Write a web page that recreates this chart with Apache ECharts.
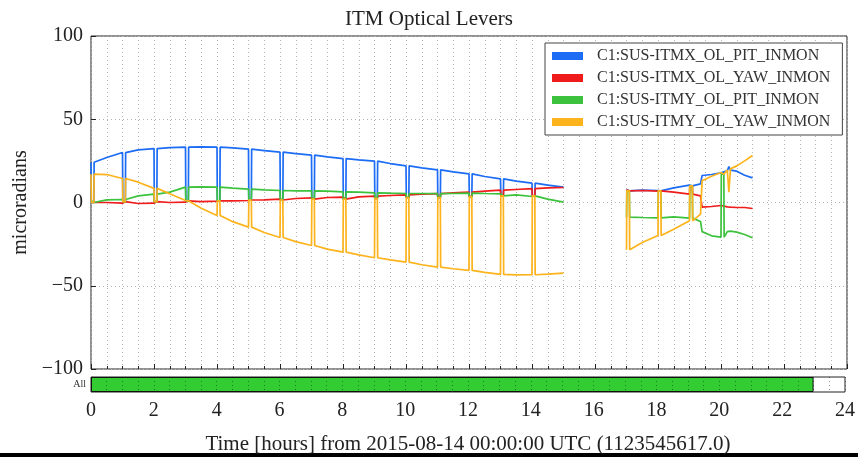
<!DOCTYPE html>
<html>
<head>
<meta charset="utf-8">
<script src="https://cdn.jsdelivr.net/npm/echarts@6/dist/echarts.min.js"></script>
<style>
html,body{margin:0;padding:0;background:#fff;}
#c{width:858px;height:457px;}
</style>
</head>
<body>
<div id="c"></div>
<script>
// ---- Data ----
const seriesNames = ['C1:SUS-ITMX_OL_PIT_INMON','C1:SUS-ITMX_OL_YAW_INMON','C1:SUS-ITMY_OL_PIT_INMON','C1:SUS-ITMY_OL_YAW_INMON'];
const xTicks = [0,2,4,6,8,10,12,14,16,18,20,22,24];
const yTicks = [-100,-50,0,50,100];

// Segment 1 (0 - 15 h), samples every half hour
const times1 = [0,0.5,1,1.5,2,2.5,3,3.5,4,4.5,5,5.5,6,6.5,7,7.5,8,8.5,9,9.5,10,10.5,11,11.5,12,12.5,13,13.5,14,14.5,15];
const blue1 = [24.2,27.0,30.0,31.6,32.4,33.0,33.3,33.4,33.2,32.8,32.0,31.2,30.2,29.4,28.4,27.4,26.4,25.6,24.8,23.4,22.0,20.8,19.6,18.4,17.2,15.6,14.2,12.8,11.6,10.4,9.2];
const red1 = [0.2,0.0,-0.4,-0.6,-0.4,0.0,0.2,0.5,0.8,1.0,1.2,1.6,2.0,2.4,2.8,3.0,3.2,3.4,3.8,4.2,4.6,5.0,5.3,5.8,6.2,6.8,7.4,7.8,8.3,8.8,9.0];
const green1 = [1.0,1.6,1.8,4.0,5.0,6.2,9.2,9.4,9.2,8.6,8.0,7.6,7.2,7.0,7.0,6.8,6.4,6.2,5.8,5.6,5.4,5.4,5.3,5.4,5.6,5.4,5.2,4.6,3.6,2.0,0.2];
const orange1 = [17.0,16.8,14.4,12.2,8.5,5.2,1.2,-3.5,-7.8,-11.5,-14.8,-18.0,-21.0,-23.5,-25.8,-28.0,-29.8,-31.5,-33.2,-34.5,-35.8,-37.4,-38.8,-39.8,-40.8,-42.0,-43.2,-43.5,-43.4,-43.0,-42.4];
// hourly re-zeroing glitches in segment 1 (common level)
const spikeTimes1 = [0,1,2,3,4,5,6,7,8,9,10,11,12,13,14];
const spikeLevel1 = [0,0.5,0.5,1,1,1.5,1.5,2,2,2.5,3,3,3.5,4,4];

// Segment 2 (17 - 21 h)
const times2 = [17,17.5,18,18.5,19,19.35,19.4,19.7,20,20.2,20.25,20.3,20.5,20.75,21];
const blue2 = [7.6,7.4,7.2,8.8,10.4,11.2,16.2,16.8,17.8,19.0,21.6,19.4,18.8,16.4,14.8];
const red2 = [7.6,7.2,6.8,6.2,5.0,4.0,-2.8,-2.4,-1.8,-2.6,-2.8,-2.8,-3.0,-3.0,-3.6];
const green2 = [-8.8,-9.0,-9.2,-8.6,-9.4,-11.4,-17.5,-20.0,-20.8,-17.5,-17.0,-17.2,-17.8,-19.2,-21.2];
const orange2 = [-28.4,-24.0,-19.8,-16.0,-11.0,-7.0,13.0,15.8,18.0,19.5,6.2,20.2,22.0,25.0,28.2];
const spikeTimes2 = [17,18,19,20];
const blueSpike2 = [7,7,10,null];
const redSpike2 = [7,7,10,null];
const greenSpike2 = [7,7,10,17];
const orangeSpike2 = [7,7,10,17];

// Data-quality state bar
const stateName = ['All'];
const stateEnd = [23];

// ---- build ----
function build(times, values, spikeTimes, spikeLevels) {
  const pts = [];
  times.forEach((t, i) => {
    const v = values[i];
    const k = spikeTimes.indexOf(t);
    if (k >= 0 && spikeLevels[k] != null) {
      pts.push([t, v], [t + 0.01, spikeLevels[k]], [t + 0.09, spikeLevels[k]], [t + 0.1, v]);
    } else {
      pts.push([t, v]);
    }
  });
  return pts;
}
function join(a, b) { return a.concat([[16, '-']], b); }

const seriesData = [
  join(build(times1, blue1, spikeTimes1, spikeLevel1), build(times2, blue2, spikeTimes2, blueSpike2)),
  join(build(times1, red1, spikeTimes1, spikeLevel1), build(times2, red2, spikeTimes2, redSpike2)),
  join(build(times1, green1, spikeTimes1, spikeLevel1), build(times2, green2, spikeTimes2, greenSpike2)),
  join(build(times1, orange1, spikeTimes1, spikeLevel1), build(times2, orange2, spikeTimes2, orangeSpike2))
];
const colors = ['#1c6cf5','#f01c1c','#3cc23c','#fdb31c'];

const FONT = 'Liberation Serif';
const minus = v => (v < 0 ? '\u2212' + Math.abs(v) : String(v));
const dotted = { color: '#b5b5b5', width: 1, type: [1, 3] };
const darkDotted = { color: 'rgba(0,0,0,0.4)', width: 1, type: [1, 3] };

const chart = echarts.init(document.getElementById('c'), null, { renderer: 'canvas' });
chart.setOption({
  animation: false,
  backgroundColor: '#fff',
  color: colors,
  title: {
    text: 'ITM Optical Levers', left: 'center', top: 4,
    textStyle: { fontFamily: FONT, fontSize: 21, fontWeight: 'normal', color: '#222' }
  },
  legend: {
    data: seriesNames, orient: 'vertical', left: 545, top: 43,
    padding: [5, 12, 5, 7], itemGap: 6, itemWidth: 31, itemHeight: 8,
    icon: 'rect', backgroundColor: '#fff', borderColor: '#444', borderWidth: 1,
    textStyle: { fontFamily: FONT, fontSize: 16, color: '#333', padding: [0, 0, 0, 9] }
  },
  grid: [
    { left: 91, top: 36, width: 756, height: 333, show: true, borderColor: '#222', borderWidth: 1, backgroundColor: 'transparent' },
    { left: 91, top: 377, width: 756, height: 15, show: true, borderColor: '#222', borderWidth: 1, backgroundColor: 'transparent' }
  ],
  xAxis: [
    {
      type: 'value', gridIndex: 0, min: 0, max: 24, interval: 2,
      axisLine: { show: false, onZero: false }, axisLabel: { show: false },
      axisTick: { show: true, inside: true, length: 5, lineStyle: { color: '#222' } },
      minorTick: { show: true, splitNumber: 4, length: 3, lineStyle: { color: '#222' } },
      splitLine: { show: true, lineStyle: dotted },
      minorSplitLine: { show: true, lineStyle: dotted }
    },
    {
      type: 'value', gridIndex: 1, min: 0, max: 24, interval: 2, z: 10,
      axisLine: { show: false, onZero: false },
      axisLabel: { show: true, margin: 9, fontFamily: FONT, fontSize: 20, color: '#222', formatter: v => String(v) },
      axisTick: { show: false },
      splitLine: { show: true, lineStyle: darkDotted },
      minorSplitLine: { show: true, lineStyle: darkDotted },
      minorTick: { show: false, splitNumber: 4 },
      name: 'Time [hours] from 2015-08-14 00:00:00 UTC (1123545617.0)',
      nameLocation: 'middle', nameGap: 42,
      nameTextStyle: { fontFamily: FONT, fontSize: 21, color: '#222' }
    }
  ],
  yAxis: [
    {
      type: 'value', gridIndex: 0, min: -100, max: 100, interval: 50,
      axisLine: { show: false, onZero: false },
      axisLabel: { fontFamily: FONT, fontSize: 20, color: '#222', margin: 8, formatter: minus },
      axisTick: { show: true, inside: true, length: 5, lineStyle: { color: '#222' } },
      splitLine: { show: true, lineStyle: dotted },
      name: 'microradians', nameLocation: 'middle', nameGap: 60, nameRotate: 90,
      nameTextStyle: { fontFamily: FONT, fontSize: 20, color: '#222' }
    },
    {
      type: 'category', gridIndex: 1, data: stateName,
      axisLine: { show: false }, axisTick: { show: false },
      axisLabel: { fontFamily: FONT, fontSize: 10, color: '#333', margin: 5 }
    }
  ],
  series: seriesNames.map((n, i) => ({
    name: n, type: 'line', xAxisIndex: 0, yAxisIndex: 0,
    data: seriesData[i], showSymbol: false, connectNulls: false,
    lineStyle: { width: 1.7, color: colors[i] }, itemStyle: { color: colors[i] },
    z: 2 + i
  })).concat([{
    name: 'All', type: 'bar', xAxisIndex: 1, yAxisIndex: 1,
    data: stateEnd, barWidth: '100%',
    itemStyle: { color: '#33cc33', borderColor: '#111', borderWidth: 1 }, z: 1
  }]),
  graphic: [
    { type: 'rect', shape: { x: 0, y: 453, width: 858, height: 4 }, style: { fill: '#000' } }
  ]
});
</script>
</body>
</html>
